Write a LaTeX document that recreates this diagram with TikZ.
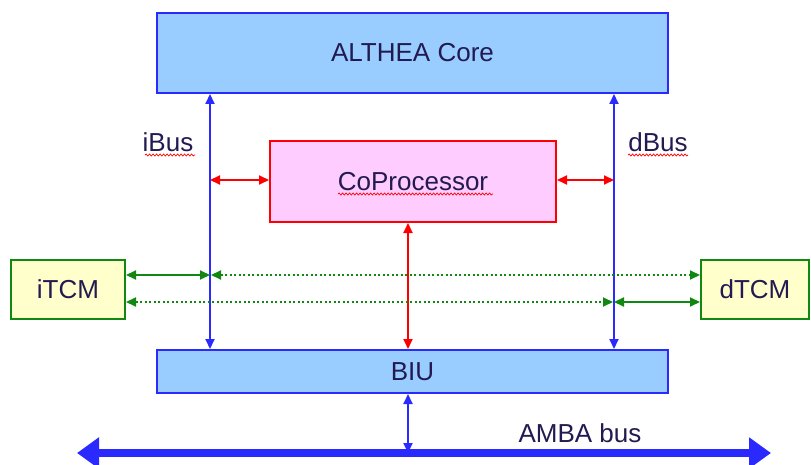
\documentclass[tikz,border=0pt]{standalone}
\usepackage{fontspec}
\setmainfont{Liberation Sans}
\usetikzlibrary{arrows.meta,decorations.pathmorphing}
\definecolor{boxblue}{HTML}{99CCFF}
\definecolor{lineblue}{HTML}{2A2AFF}
\definecolor{txt}{HTML}{221A50}
\definecolor{cofill}{HTML}{FFCCFF}
\definecolor{tcmfill}{HTML}{FFFFCC}
\definecolor{grn}{HTML}{118811}
\tikzset{
  lbl/.style={text=txt,font=\fontsize{26}{30}\selectfont},
  bluebox/.style={draw=lineblue,line width=2pt,fill=boxblue,lbl,inner sep=0pt},
  cobox/.style={draw=red,line width=2pt,fill=cofill,lbl,inner sep=0pt},
  tcmbox/.style={draw=grn,line width=2pt,fill=tcmfill,lbl,inner sep=0pt},
  bus/.style={draw=lineblue,line width=2pt,{Triangle[length=10pt,width=9pt]}-{Triangle[length=10pt,width=9pt]}},
  redarr/.style={draw=red,line width=2pt,{Triangle[length=10pt,width=9pt]}-{Triangle[length=10pt,width=9pt]}},
  grnarr/.style={draw=grn,line width=2pt,{Triangle[length=10pt,width=9pt]}-{Triangle[length=10pt,width=9pt]}},
  grndot/.style={grnarr,dash pattern=on 2pt off 2.5pt},
  wavy/.style={draw=red,line width=0.7pt,decorate,decoration={snake,amplitude=1pt,segment length=3.5pt}}
}
\begin{document}
\begin{tikzpicture}[x=1pt,y=-1pt]
\useasboundingbox (0,0) rectangle (811,465);
\node[bluebox,minimum width=511pt,minimum height=80pt] (core) at (412.5,53) {ALTHEA Core};
\node[bluebox,minimum width=511pt,minimum height=43pt] (biu) at (412.5,371.5) {BIU};
\node[cobox,minimum width=286pt,minimum height=81pt] (cop) at (413,181.5) {CoProcessor};
\node[tcmbox,minimum width=114pt,minimum height=59pt] (itcm) at (68,289.5) {iTCM};
\node[tcmbox,minimum width=108pt,minimum height=59pt] (dtcm) at (755,289.5) {dTCM};
\node[lbl,anchor=base] (ibus) at (168,152) {iBus};
\node[lbl,anchor=base] (dbus) at (658,152) {dBus};
\node[lbl,anchor=base] (amba) at (580,442) {AMBA bus};
\coordinate (ib) at (210,0);
\coordinate (db) at (614,0);
\coordinate (mid) at (408,0);
\coordinate (al) at (77,453);
\coordinate (ar) at (771,453);
% buses
\draw[bus] (core.south -| ib) -- (biu.north -| ib);
\draw[bus] (core.south -| db) -- (biu.north -| db);
% coprocessor links
\draw[redarr] (cop.west |- 0,180) -- (ib |- 0,180);
\draw[redarr] (cop.east |- 0,180) -- (db |- 0,180);
\draw[redarr] (cop.south -| mid) -- (biu.north -| mid);
% TCM links
\draw[grnarr] (itcm.east |- 0,275) -- (ib |- 0,275);
\draw[grndot] (ib |- 0,275) ++(1,0) -- (dtcm.west |- 0,275);
\draw[grndot] (itcm.east |- 0,302) -- ([xshift=-1pt]db |- 0,302);
\draw[grnarr] (db |- 0,302) -- (dtcm.west |- 0,302);
% AMBA
\draw[draw=lineblue,line width=8pt,{Triangle[length=22pt,width=30pt]}-{Triangle[length=22pt,width=30pt]}] (al) -- (ar);
\draw[bus] (biu.south -| mid) -- (al -| mid);
% spelling underlines
\draw[wavy] (145,155) -- (195,155);
\draw[wavy] (628,155) -- (688,155);
\draw[wavy] (338,194) -- (493,194);
\end{tikzpicture}
\end{document}
